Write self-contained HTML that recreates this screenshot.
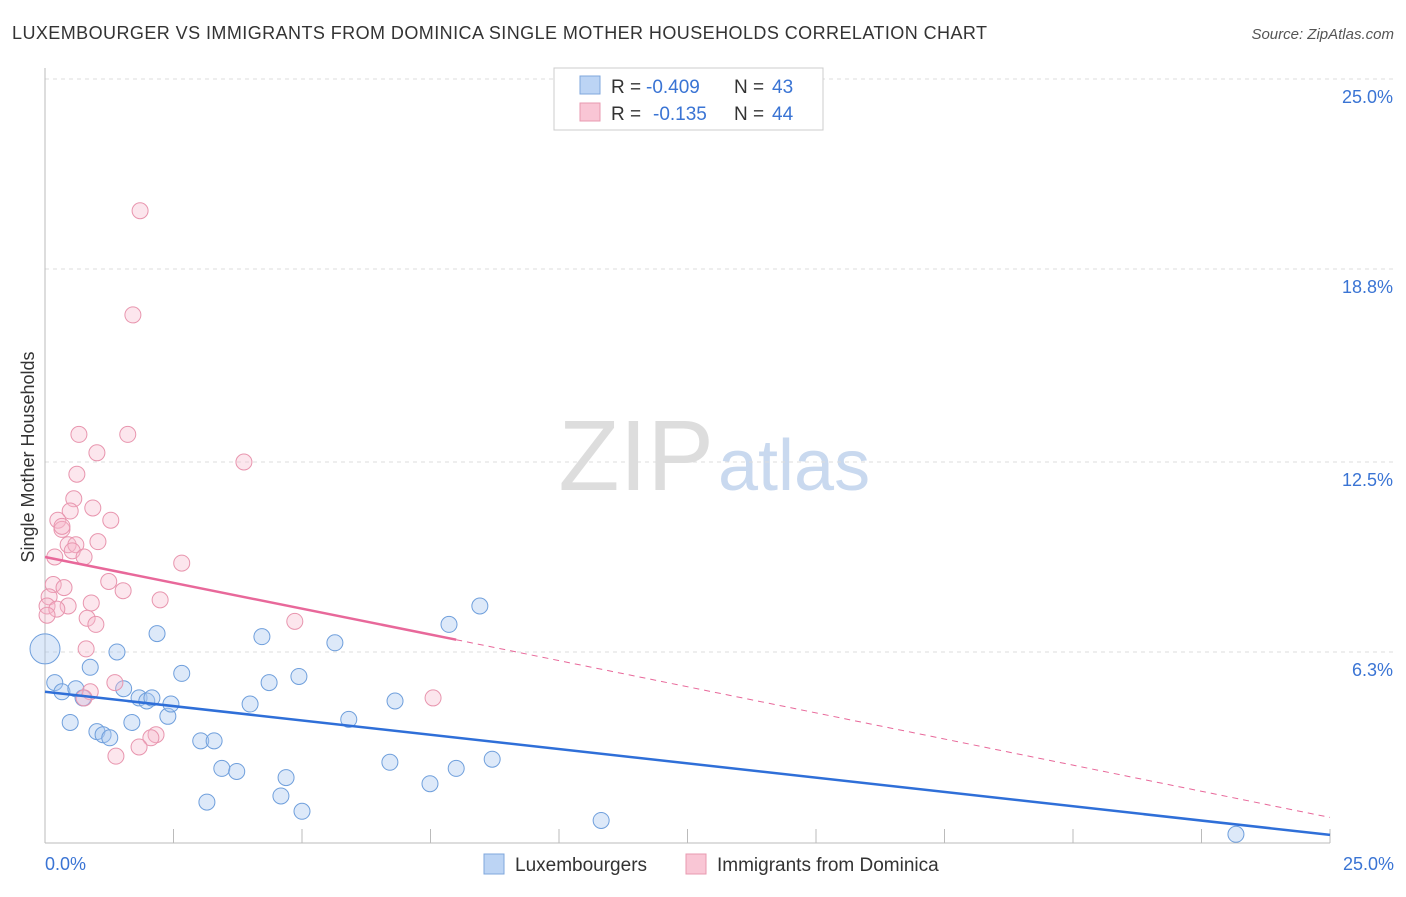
<!DOCTYPE html>
<html><head><meta charset="utf-8"><style>
body{margin:0;background:#fff;font-family:"Liberation Sans",sans-serif}
svg text{font-family:"Liberation Sans",sans-serif}
</style></head><body>
<svg id="c" width="1406" height="892">
<text x="12" y="39" font-size="18" fill="#333" textLength="975" lengthAdjust="spacing">LUXEMBOURGER VS IMMIGRANTS FROM DOMINICA SINGLE MOTHER HOUSEHOLDS CORRELATION CHART</text>
<text x="1394" y="39" font-size="15" fill="#555" font-style="italic" text-anchor="end">Source: ZipAtlas.com</text>
<text x="34" y="457" font-size="18" fill="#333" transform="rotate(-90 34 457)" text-anchor="middle">Single Mother Households</text>
<text x="714" y="490" font-size="100" fill="#ddd" text-anchor="end" font-family="Liberation Serif">ZIP</text>
<text x="718" y="490" font-size="72" fill="#c9d9ef">atlas</text>
<g id="grid"></g><g id="pts"></g><g id="lines"></g>
<g>
<rect x="554" y="68" width="269" height="62" fill="#fff" stroke="#ccc"/>
<rect x="580" y="76" width="20" height="18" fill="#bcd4f4" stroke="#7fa7dc"/>
<text x="611" y="93" font-size="19" fill="#333">R =</text>
<text x="646" y="93" font-size="19" fill="#3a74d4">-0.409</text>
<text x="734" y="93" font-size="19" fill="#333">N =</text>
<text x="772" y="93" font-size="19" fill="#3a74d4">43</text>
<rect x="580" y="103" width="20" height="18" fill="#f9c6d5" stroke="#e89ab0"/>
<text x="611" y="120" font-size="19" fill="#333">R =</text>
<text x="653" y="120" font-size="19" fill="#3a74d4">-0.135</text>
<text x="734" y="120" font-size="19" fill="#333">N =</text>
<text x="772" y="120" font-size="19" fill="#3a74d4">44</text>
</g>
<g>
<rect x="484" y="854" width="20" height="20" fill="#bcd4f4" stroke="#7fa7dc"/>
<text x="515" y="871" font-size="19" fill="#333">Luxembourgers</text>
<rect x="686" y="854" width="20" height="20" fill="#f9c6d5" stroke="#e89ab0"/>
<text x="717" y="871" font-size="19" fill="#333">Immigrants from Dominica</text>
</g>
</svg>
<script>
const yTicks=[25,18.8,12.5,6.3];
const yTickLabels=["25.0%","18.8%","12.5%","6.3%"];
const blueX=[0,0.19,0.33,0.49,0.6,0.74,0.88,1.01,1.13,1.26,1.4,1.53,1.69,1.83,1.98,2.08,2.18,2.39,2.45,2.66,3.03,3.15,3.29,3.44,3.73,3.99,4.22,4.36,4.59,4.69,4.94,5,5.64,5.91,6.71,6.81,7.49,7.86,8,8.46,8.7,10.82,23.17];
const blueY=[6.4,5.3,5.0,4.0,5.1,4.8,5.8,3.7,3.6,3.5,6.3,5.1,4.0,4.8,4.7,4.8,6.9,4.2,4.6,5.6,3.4,1.4,3.4,2.5,2.4,4.6,6.8,5.3,1.6,2.2,5.5,1.1,6.6,4.1,2.7,4.7,2.0,7.2,2.5,7.8,2.8,0.8,0.35];
const pinkX=[1.85,1.71,0.66,1.61,1.01,3.87,0.62,0.56,0.93,0.49,1.28,0.25,0.33,0.45,0.6,1.03,0.19,0.53,0.76,2.66,1.24,0.16,0.37,1.52,0.08,2.24,0.9,0.45,0.04,0.23,0.04,0.82,0.99,4.86,0.8,1.36,0.88,0.76,7.55,2.16,2.06,1.83,1.38,0.33];
const pinkY=[20.7,17.3,13.4,13.4,12.8,12.5,12.1,11.3,11.0,10.9,10.6,10.6,10.3,9.8,9.8,9.9,9.4,9.6,9.4,9.2,8.6,8.5,8.4,8.3,8.1,8.0,7.9,7.8,7.8,7.7,7.5,7.4,7.2,7.3,6.4,5.3,5.0,4.8,4.8,3.6,3.5,3.2,2.9,10.4];
const blueTrend=[[0,5.0],[25,0.33]];
const pinkTrend=[[0,9.4],[8,6.7],[25,0.9]];
const xs=v=>45+v/25*1285, ys=v=>845-v/25*766;
const NS="http://www.w3.org/2000/svg";
function mk(p,t,a){const e=document.createElementNS(NS,t);for(const k in a)e.setAttribute(k,a[k]);p.appendChild(e);return e;}
const g=document.getElementById('grid');
yTicks.forEach((t,i)=>{
 const l=mk(g,'line',{x1:45,x2:1395,y1:ys(t),y2:ys(t),stroke:'#ddd','stroke-dasharray':'4,4'});
 
 
 const tx=mk(g,'text',{x:1393,y:ys(t)+24,'font-size':18,fill:'#3a74d4','text-anchor':'end'});
 tx.textContent=yTickLabels[i];
 
 
});
const ax=mk(g,'line',{x1:45,x2:1330,y1:843,y2:843,stroke:'#bbb'});


const ay=mk(g,'line',{x1:45,x2:45,y1:68,y2:843,stroke:'#bbb'});


for(let i=0;i<=10;i++){const t=mk(g,'line',{x1:xs(i*2.5),x2:xs(i*2.5),y1:829,y2:843,stroke:'#bbb'});
 
 }
[[0,"0.0%","start",45],[25,"25.0%","end",1394]].forEach(d=>{const t=mk(g,'text',{x:d[3],y:870,'font-size':18,fill:'#3a74d4','text-anchor':d[2]});t.textContent=d[1];
 
 });
const P=document.getElementById('pts');
blueX.forEach((x,i)=>{const c=mk(P,'circle',{cx:xs(x),cy:ys(blueY[i]),r:i==0?15:8,fill:'#a9c8f0','fill-opacity':0.4,stroke:'#6f9fdc','stroke-width':1});
 
 });
pinkX.forEach((x,i)=>{const c=mk(P,'circle',{cx:xs(x),cy:ys(pinkY[i]),r:8,fill:'#f6b8cb','fill-opacity':0.35,stroke:'#e895ae','stroke-width':1});
 
 });
const L=document.getElementById('lines');
const bl=mk(L,'line',{x1:xs(blueTrend[0][0]),y1:ys(blueTrend[0][1]),x2:xs(blueTrend[1][0]),y2:ys(blueTrend[1][1]),stroke:'#2f6fd8','stroke-width':2.5});


const pl=mk(L,'line',{x1:xs(pinkTrend[0][0]),y1:ys(pinkTrend[0][1]),x2:xs(pinkTrend[1][0]),y2:ys(pinkTrend[1][1]),stroke:'#e8689a','stroke-width':2.5});


const pd=mk(L,'line',{x1:xs(pinkTrend[1][0]),y1:ys(pinkTrend[1][1]),x2:xs(pinkTrend[2][0]),y2:ys(pinkTrend[2][1]),stroke:'#e8689a','stroke-width':1,'stroke-dasharray':'6,5'});


</script>
</body></html>
